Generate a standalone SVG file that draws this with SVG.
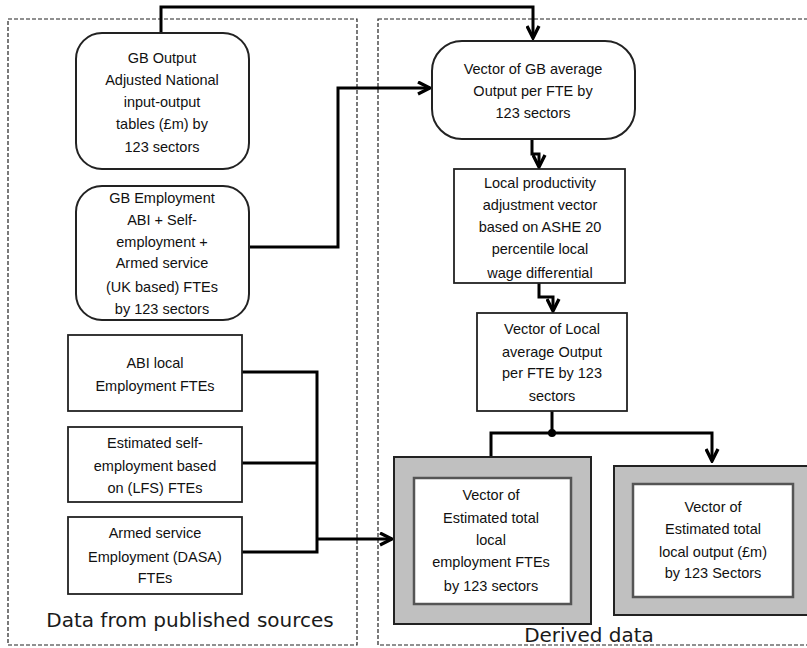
<svg xmlns="http://www.w3.org/2000/svg" width="807" height="648" viewBox="0 0 807 648">
<style>
.panel{fill:none;stroke:#222;stroke-width:1.2;stroke-dasharray:4,2}
.rnode{fill:#fff;stroke:#222;stroke-width:2}
.box{fill:#fff;stroke:#222;stroke-width:1.8}
.gout{fill:#c0c0c0;stroke:#222;stroke-width:2}
.gin{fill:#fff;stroke:#555;stroke-width:2.5}
.t{font-family:"Liberation Sans",Arial,sans-serif;font-size:14.5px;fill:#111;text-anchor:middle}
.lbl{font-family:"DejaVu Sans",sans-serif;font-size:20px;fill:#1a1a1a;text-anchor:middle}
.c{fill:none;stroke:#000;stroke-width:3}
</style>
<defs>
<marker id="arr" viewBox="0 0 10 10" refX="9" refY="5" markerWidth="15" markerHeight="15" markerUnits="userSpaceOnUse" orient="auto">
<path d="M1,1 L9,5 L1,9" fill="none" stroke="#000" stroke-width="2.2"/>
</marker>
</defs>
<rect width="807" height="648" fill="#fff"/>
<g id="panel-sources">
<rect class="panel" x="8" y="19" width="349" height="626"/>
<text class="lbl" x="190" y="627">Data from published sources</text>
</g>
<g id="panel-derived">
<rect class="panel" x="378" y="19" width="440" height="626"/>
<text class="lbl" x="589" y="642">Derived data</text>
</g>
<g id="connectors">
<path class="c" d="M161,33 V7 H533 V38" marker-end="url(#arr)"/>
<path class="c" d="M249,247 H338 V88 H430" marker-end="url(#arr)"/>
<path class="c" d="M532,139 V154 H539 V167" marker-end="url(#arr)"/>
<path class="c" d="M539,283 V297 H553 V311" marker-end="url(#arr)"/>
<path class="c" d="M242,372 H317 V552 H242 M242,463 H317"/>
<path class="c" d="M317,539 H392" marker-end="url(#arr)"/>
<path class="c" d="M552,411 V433 M491,456 V433 H712 V461" marker-end="url(#arr)"/>
<circle cx="552" cy="433" r="4" fill="#000"/>
</g>
<g id="gb-output">
<rect class="rnode" x="76" y="33" width="173" height="136" rx="26"/>
<text class="t" x="162" y="63">GB Output</text>
<text class="t" x="162" y="85">Adjusted National</text>
<text class="t" x="162" y="107">input-output</text>
<text class="t" x="162" y="129">tables (£m) by</text>
<text class="t" x="162" y="152">123 sectors</text>
</g>
<g id="gb-employment">
<rect class="rnode" x="76" y="186" width="173" height="134" rx="26"/>
<text class="t" x="162" y="203">GB Employment</text>
<text class="t" x="162" y="225">ABI + Self-</text>
<text class="t" x="162" y="247">employment +</text>
<text class="t" x="162" y="268">Armed service</text>
<text class="t" x="162" y="292">(UK based) FTEs</text>
<text class="t" x="162" y="314">by 123 sectors</text>
</g>
<g id="abi-local">
<rect class="box" x="68" y="335" width="174" height="76"/>
<text class="t" x="155" y="368">ABI local</text>
<text class="t" x="155" y="391">Employment FTEs</text>
</g>
<g id="self-employment">
<rect class="box" x="68" y="427" width="174" height="75"/>
<text class="t" x="155" y="448">Estimated self-</text>
<text class="t" x="155" y="471">employment based</text>
<text class="t" x="155" y="493">on (LFS) FTEs</text>
</g>
<g id="armed-service">
<rect class="box" x="68" y="517" width="174" height="77"/>
<text class="t" x="155" y="538">Armed service</text>
<text class="t" x="155" y="562">Employment (DASA)</text>
<text class="t" x="155" y="583">FTEs</text>
</g>
<g id="gb-average">
<rect class="rnode" x="432" y="41" width="203" height="98" rx="30"/>
<text class="t" x="533" y="74">Vector of GB average</text>
<text class="t" x="533" y="96">Output per FTE by</text>
<text class="t" x="533" y="118">123 sectors</text>
</g>
<g id="local-productivity">
<rect class="box" x="454" y="169" width="171" height="114"/>
<text class="t" x="540" y="188">Local productivity</text>
<text class="t" x="540" y="210">adjustment vector</text>
<text class="t" x="540" y="232">based on ASHE 20</text>
<text class="t" x="540" y="254">percentile local</text>
<text class="t" x="540" y="278">wage differential</text>
</g>
<g id="local-average">
<rect class="box" x="477" y="313" width="150" height="98"/>
<text class="t" x="552" y="334">Vector of Local</text>
<text class="t" x="552" y="357">average Output</text>
<text class="t" x="552" y="378">per FTE by 123</text>
<text class="t" x="552" y="401">sectors</text>
</g>
<g id="total-employment">
<rect class="gout" x="394" y="457" width="197" height="167"/>
<rect class="gin" x="414" y="478" width="157" height="126"/>
<text class="t" x="491" y="500">Vector of</text>
<text class="t" x="491" y="523">Estimated total</text>
<text class="t" x="491" y="545">local</text>
<text class="t" x="491" y="567">employment FTEs</text>
<text class="t" x="491" y="591">by 123 sectors</text>
</g>
<g id="total-output">
<rect class="gout" x="614" y="466" width="200" height="149"/>
<rect class="gin" x="633" y="484" width="160" height="113"/>
<text class="t" x="713" y="512">Vector of</text>
<text class="t" x="713" y="534">Estimated total</text>
<text class="t" x="713" y="557">local output (£m)</text>
<text class="t" x="713" y="578">by 123 Sectors</text>
</g>
</svg>
